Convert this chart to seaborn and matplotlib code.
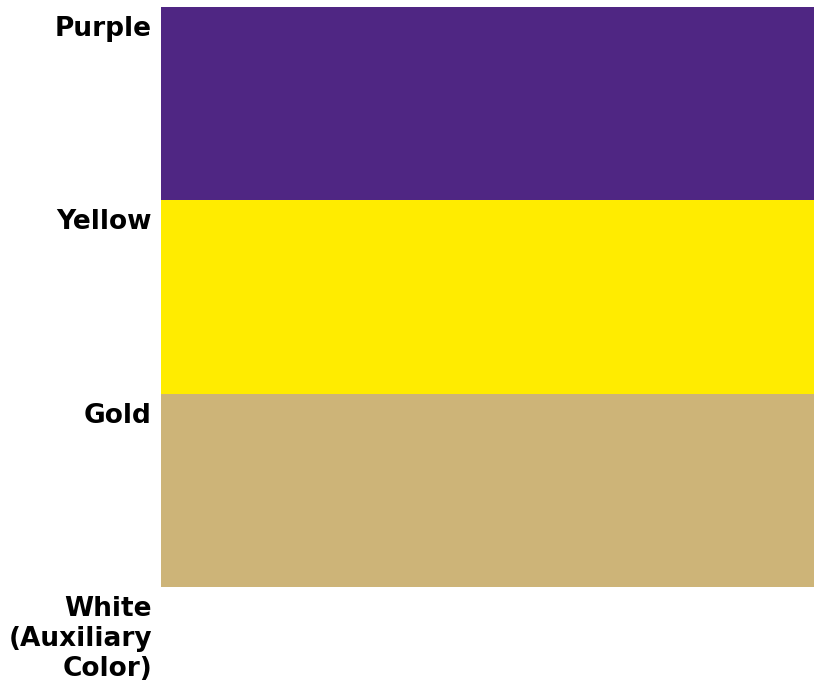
import seaborn as sns
import matplotlib.pyplot as plt
import pandas as pd

# Swatch names, labels and colours
names = ['Purple', 'Yellow', 'Gold', 'White']
labels = ['Purple', 'Yellow', 'Gold', 'White\n(Auxiliary\nColor)']
hex_colors = ['#4F2683', '#FFEC00', '#CDB478', '#FFFFFF']
values = [1, 1, 1, 1]

df = pd.DataFrame({'name': names, 'value': values})

sns.set_style('white')
plt.rcParams['font.family'] = ['DejaVu Sans']

fig = plt.figure(figsize=(8.14, 6.82), dpi=100)
ax = fig.add_axes([161 / 814, 0, 1 - 161 / 814, 675 / 682])

sns.barplot(data=df, y='name', x='value', hue='name', orient='h',
            palette=dict(zip(names, hex_colors)), saturation=1,
            width=1, linewidth=0, legend=False, ax=ax)

ax.set_xlim(0, 1)
ax.set_ylim(-0.5 + 675 / 193.3, -0.5)
ax.set_xticks([])
ax.set_yticks([])
ax.set_xlabel('')
ax.set_ylabel('')
sns.despine(ax=ax, left=True, bottom=True)

# Labels at the top of each swatch, right-aligned left of the axes
for i, lab in enumerate(labels):
    ax.annotate(lab, xy=(0, i - 0.5), xycoords=('axes fraction', 'data'),
                xytext=(-6.5, -6.5), textcoords='offset points',
                ha='right', va='top', multialignment='right',
                fontsize=19, fontweight='bold', color='black',
                linespacing=1.2, annotation_clip=False)

fig.savefig('out.png', dpi=100)
